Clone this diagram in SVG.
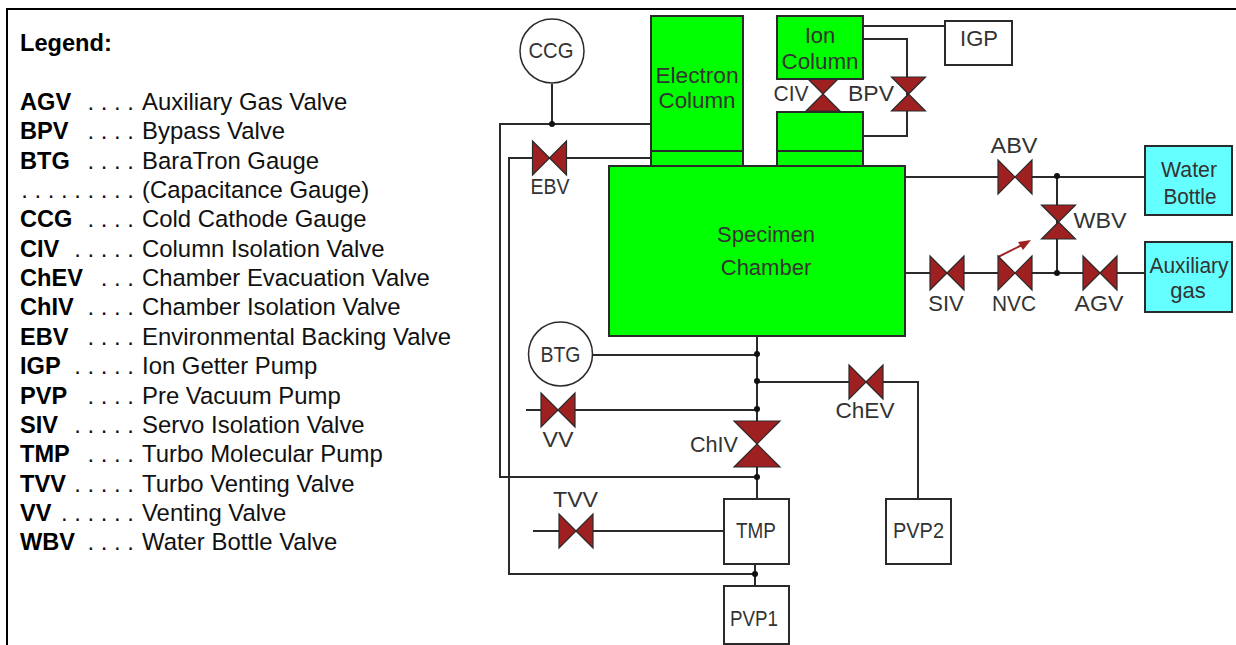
<svg xmlns="http://www.w3.org/2000/svg" width="1236" height="645" viewBox="0 0 1236 645">
<style>
text{font-family:"Liberation Sans",Arial,sans-serif}
.k{font-size:23.6px;font-weight:bold;fill:#000}
.d{font-size:23.9px;fill:#111}
.e{text-anchor:end}
.t{font-size:22px;fill:#333;text-anchor:middle}
.w{stroke:#2a2a2a;stroke-width:2;fill:none}
.box{stroke:#2a2a2a;stroke-width:2;fill:#fff}
.g{stroke:#2a2a2a;stroke-width:2;fill:#00ff00}
.c{stroke:#2a2a2a;stroke-width:2;fill:#66ffff}
.gauge{stroke:#2a2a2a;stroke-width:1.5;fill:#fff}
.v{stroke:#2a2a2a;stroke-width:1.2;fill:#9e2020}
.dot{fill:#111}
</style>
<defs>
<polygon id="vh" class="v" points="-17,-17 17,17 17,-17 -17,17"/>
<polygon id="vv" class="v" points="-17,-17 17,-17 -17,17 17,17"/>
<polygon id="vvl" class="v" points="-23,-23 23,-23 -23,23 23,23"/>
</defs>
<g id="frame"><path d="M7 645V9H1236" fill="none" stroke="#000" stroke-width="2"/></g>
<g id="legend">
<text class="k" x="20" y="51">Legend:</text>
<text class="k" x="20" y="110">AGV</text><text class="d e" x="134" y="110">. . . .</text><text class="d" x="142" y="110">Auxiliary Gas Valve</text>
<text class="k" x="20" y="139">BPV</text><text class="d e" x="134" y="139">. . . .</text><text class="d" x="142" y="139">Bypass Valve</text>
<text class="k" x="20" y="169">BTG</text><text class="d e" x="134" y="169">. . . .</text><text class="d" x="142" y="169">BaraTron Gauge</text>
<text class="d e" x="134" y="198">. . . . . . . . .</text><text class="d" x="142" y="198">(Capacitance Gauge)</text>
<text class="k" x="20" y="227">CCG</text><text class="d e" x="134" y="227">. . . .</text><text class="d" x="142" y="227">Cold Cathode Gauge</text>
<text class="k" x="20" y="257">CIV</text><text class="d e" x="134" y="257">. . . . .</text><text class="d" x="142" y="257">Column Isolation Valve</text>
<text class="k" x="20" y="286">ChEV</text><text class="d e" x="134" y="286">. . .</text><text class="d" x="142" y="286">Chamber Evacuation Valve</text>
<text class="k" x="20" y="315">ChIV</text><text class="d e" x="134" y="315">. . . .</text><text class="d" x="142" y="315">Chamber Isolation Valve</text>
<text class="k" x="20" y="345">EBV</text><text class="d e" x="134" y="345">. . . .</text><text class="d" x="142" y="345">Environmental Backing Valve</text>
<text class="k" x="20" y="374">IGP</text><text class="d e" x="134" y="374">. . . . .</text><text class="d" x="142" y="374">Ion Getter Pump</text>
<text class="k" x="20" y="404">PVP</text><text class="d e" x="134" y="404">. . . .</text><text class="d" x="142" y="404">Pre Vacuum Pump</text>
<text class="k" x="20" y="433">SIV</text><text class="d e" x="134" y="433">. . . . .</text><text class="d" x="142" y="433">Servo Isolation Valve</text>
<text class="k" x="20" y="462">TMP</text><text class="d e" x="134" y="462">. . . .</text><text class="d" x="142" y="462">Turbo Molecular Pump</text>
<text class="k" x="20" y="492">TVV</text><text class="d e" x="134" y="492">. . . . .</text><text class="d" x="142" y="492">Turbo Venting Valve</text>
<text class="k" x="20" y="521">VV</text><text class="d e" x="134" y="521">. . . . . .</text><text class="d" x="142" y="521">Venting Valve</text>
<text class="k" x="20" y="550">WBV</text><text class="d e" x="134" y="550">. . . .</text><text class="d" x="142" y="550">Water Bottle Valve</text>
</g>
<g id="connectors">
<path class="w" d="M552 84V124M651 124H500V477H757"/>
<path class="w" d="M651 158H509V574H755"/>
<path class="w" d="M863 26H945M863 39H907V136H863"/>
<path class="w" d="M905 177H1145M905 273H1145M1057 176V273"/>
<path class="w" d="M757 336V499M593 355H757M757 382H918V499M526 410H757"/>
<path class="w" d="M533 531H724M755 564V586"/>
<path d="M998 257L1022 245" stroke="#9e2020" stroke-width="2" fill="none"/>
<polygon points="1031,240 1018,242 1023,250" fill="#9e2020"/>
<circle class="dot" cx="552" cy="124" r="3"/>
<circle class="dot" cx="1057" cy="176" r="3"/>
<circle class="dot" cx="1057" cy="273" r="3"/>
<circle class="dot" cx="757" cy="354" r="3"/>
<circle class="dot" cx="757" cy="381" r="3"/>
<circle class="dot" cx="757" cy="409" r="3"/>
<circle class="dot" cx="757" cy="477" r="3"/>
<circle class="dot" cx="755" cy="574" r="3"/>
</g>
<g id="CIV"><use href="#vv" x="823" y="94"/><text class="t" x="791" y="101" textLength="35" lengthAdjust="spacingAndGlyphs">CIV</text></g>
<g id="ElectronColumn"><rect class="g" x="651" y="16" width="92" height="150"/><path class="w" d="M651 151H743"/><text class="t" x="697" y="83" textLength="83" lengthAdjust="spacingAndGlyphs">Electron</text><text class="t" x="697" y="108" textLength="77" lengthAdjust="spacingAndGlyphs">Column</text></g>
<g id="IonColumn"><rect class="g" x="777" y="16" width="86" height="63"/><text class="t" x="820" y="43">Ion</text><text class="t" x="820" y="69" textLength="77" lengthAdjust="spacingAndGlyphs">Column</text></g>
<g id="IonColumnLower"><rect class="g" x="777" y="112" width="86" height="54"/><path class="w" d="M777 151H863"/></g>
<g id="SpecimenChamber"><rect class="g" x="609" y="166" width="296" height="170"/><text class="t" x="766" y="242">Specimen</text><text class="t" x="766" y="275">Chamber</text></g>
<g id="CCG"><circle class="gauge" cx="552" cy="51" r="32"/><text class="t" x="551" y="58" textLength="45" lengthAdjust="spacingAndGlyphs">CCG</text></g>
<g id="BTG"><circle class="gauge" cx="560.500" cy="354" r="32"/><text class="t" x="560.500" y="362" textLength="40" lengthAdjust="spacingAndGlyphs">BTG</text></g>
<g id="IGP"><rect class="box" x="945" y="21" width="67" height="44"/><text class="t" x="979" y="46">IGP</text></g>
<g id="BPV"><use href="#vv" x="908.500" y="94"/><text class="t" x="871" y="101" textLength="46" lengthAdjust="spacingAndGlyphs">BPV</text></g>
<g id="EBV"><use href="#vh" x="549.500" y="158"/><text class="t" x="550" y="194" textLength="39" lengthAdjust="spacingAndGlyphs">EBV</text></g>
<g id="ABV"><use href="#vh" x="1015" y="177"/><text class="t" x="1014" y="153" textLength="47" lengthAdjust="spacingAndGlyphs">ABV</text></g>
<g id="WBV"><use href="#vv" x="1058.500" y="222"/><text class="t" x="1100" y="228" textLength="53" lengthAdjust="spacingAndGlyphs">WBV</text></g>
<g id="SIV"><use href="#vh" x="947" y="273"/><text class="t" x="946" y="311">SIV</text></g>
<g id="NVC"><use href="#vh" x="1015" y="273"/><text class="t" x="1014" y="311" textLength="44" lengthAdjust="spacingAndGlyphs">NVC</text></g>
<g id="AGV"><use href="#vh" x="1100" y="273"/><text class="t" x="1099" y="311" textLength="49" lengthAdjust="spacingAndGlyphs">AGV</text></g>
<g id="WaterBottle"><rect class="c" x="1145" y="146" width="87" height="69"/><text class="t" x="1189" y="177" textLength="56" lengthAdjust="spacingAndGlyphs">Water</text><text class="t" x="1190" y="204" textLength="53" lengthAdjust="spacingAndGlyphs">Bottle</text></g>
<g id="AuxiliaryGas"><rect class="c" x="1145" y="242" width="87" height="70"/><text class="t" x="1189" y="273" textLength="79" lengthAdjust="spacingAndGlyphs">Auxiliary</text><text class="t" x="1188" y="298">gas</text></g>
<g id="ChEV"><use href="#vh" x="866" y="382"/><text class="t" x="865" y="418" textLength="59" lengthAdjust="spacingAndGlyphs">ChEV</text></g>
<g id="VV"><use href="#vh" x="558" y="410"/><text class="t" x="558" y="447" textLength="31" lengthAdjust="spacingAndGlyphs">VV</text></g>
<g id="ChIV"><use href="#vvl" x="757" y="444"/><text class="t" x="714" y="452" textLength="48" lengthAdjust="spacingAndGlyphs">ChIV</text></g>
<g id="TVV"><use href="#vh" x="576" y="531"/><text class="t" x="575.500" y="507" textLength="45" lengthAdjust="spacingAndGlyphs">TVV</text></g>
<g id="TMP"><rect class="box" x="724" y="499" width="65" height="65"/><text class="t" x="756" y="538" textLength="40" lengthAdjust="spacingAndGlyphs">TMP</text></g>
<g id="PVP2"><rect class="box" x="886" y="499" width="65" height="65"/><text class="t" x="918.500" y="538" textLength="51" lengthAdjust="spacingAndGlyphs">PVP2</text></g>
<g id="PVP1"><rect class="box" x="724" y="586" width="65" height="58"/><text class="t" x="754" y="626" textLength="48" lengthAdjust="spacingAndGlyphs">PVP1</text></g>
</svg>
